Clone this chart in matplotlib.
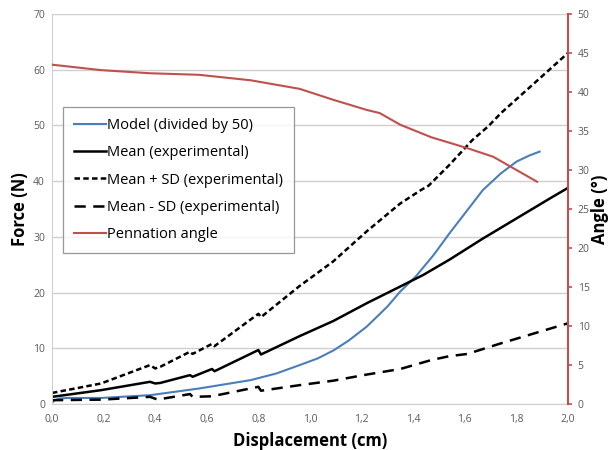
import matplotlib
matplotlib.use("Agg")
import matplotlib.pyplot as plt

# ---- data ----
model_x = [0.0, 0.01, 0.03, 0.06, 0.19, 0.38, 0.57, 0.77, 0.87, 0.96, 1.03, 1.09, 1.15, 1.22, 1.30, 1.35, 1.41, 1.48, 1.54, 1.61, 1.67, 1.74, 1.80, 1.85, 1.89]
model_y = [0.2, 0.7, 1.0, 1.1, 1.1, 1.6, 2.8, 4.3, 5.5, 7.0, 8.2, 9.6, 11.4, 13.9, 17.5, 20.2, 22.9, 26.8, 30.6, 34.8, 38.4, 41.4, 43.5, 44.6, 45.3]

mean_x = [0.0, 0.19, 0.38, 0.40, 0.42, 0.535, 0.545, 0.62, 0.63, 0.80, 0.81, 0.96, 1.09, 1.22, 1.35, 1.44, 1.54, 1.67, 1.80, 1.93, 2.0]
mean_y = [1.3, 2.5, 4.0, 3.7, 3.8, 5.2, 4.9, 6.3, 5.9, 9.7, 8.9, 12.2, 14.9, 18.1, 21.1, 23.2, 25.9, 29.7, 33.3, 36.9, 38.8]

plus_x = [0.0, 0.19, 0.38, 0.40, 0.42, 0.535, 0.545, 0.62, 0.63, 0.80, 0.81, 0.96, 1.09, 1.22, 1.35, 1.43, 1.46, 1.54, 1.63, 1.69, 1.74, 1.87, 2.0]
plus_y = [2.0, 3.7, 7.0, 6.4, 6.7, 9.4, 9.0, 10.8, 10.4, 16.2, 15.6, 21.2, 25.6, 31.0, 36.0, 38.4, 39.2, 42.9, 47.4, 49.8, 52.2, 57.6, 63.0]

minus_x = [0.0, 0.19, 0.38, 0.41, 0.42, 0.535, 0.545, 0.62, 0.80, 0.81, 0.96, 1.09, 1.22, 1.35, 1.47, 1.54, 1.61, 1.74, 1.87, 2.0]
minus_y = [0.7, 0.8, 1.3, 0.8, 0.9, 1.8, 1.3, 1.4, 3.1, 2.4, 3.4, 4.2, 5.3, 6.3, 7.9, 8.6, 9.0, 10.9, 12.7, 14.5]

angle_x = [0.0, 0.19, 0.38, 0.57, 0.77, 0.96, 1.09, 1.22, 1.27, 1.35, 1.47, 1.61, 1.71, 1.88]
angle_y = [43.5, 42.8, 42.4, 42.2, 41.5, 40.4, 39.0, 37.7, 37.3, 35.8, 34.2, 32.8, 31.7, 28.5]

x_ticks = [0.0, 0.2, 0.4, 0.6, 0.8, 1.0, 1.2, 1.4, 1.6, 1.8, 2.0]
x_ticklabels = ["0,0", "0,2", "0,4", "0,6", "0,8", "1,0", "1,2", "1,4", "1,6", "1,8", "2,0"]
force_ticks = [0, 10, 20, 30, 40, 50, 60, 70]
angle_ticks = [0, 5, 10, 15, 20, 25, 30, 35, 40, 45, 50]

labels = ["Model (divided by 50)", "Mean (experimental)", "Mean + SD (experimental)",
          "Mean - SD (experimental)", "Pennation angle"]

# ---- style ----
plt.rcParams['font.family'] = ['Open Sans', 'DejaVu Sans']
BLUE = "#4A7EBB"
RED = "#C0504D"
GRID = "#D0D0D0"
TICKC = "#595959"

fig = plt.figure(figsize=(6.08, 4.5), dpi=100)
ax = fig.add_axes([0.0855, 0.102, 0.8487, 0.867])
ax2 = ax.twinx()

l1, = ax.plot(model_x, model_y, color=BLUE, lw=1.5, label=labels[0])
l2, = ax.plot(mean_x, mean_y, color="black", lw=1.8, label=labels[1])
l3, = ax.plot(plus_x, plus_y, color="black", lw=1.8, dashes=(2.2, 1.3), label=labels[2])
l4, = ax.plot(minus_x, minus_y, color="black", lw=1.8, dashes=(4.5, 3.0), label=labels[3])
l5, = ax2.plot(angle_x, angle_y, color=RED, lw=1.5, label=labels[4])

ax.set_xlim(0, 2.0)
ax.set_ylim(0, 70)
ax2.set_ylim(0, 50)
ax.set_xticks(x_ticks)
ax.set_xticklabels(x_ticklabels)
ax.set_yticks(force_ticks)
ax2.set_yticks(angle_ticks)

ax.grid(axis='y', color=GRID, lw=1.0)
ax.set_axisbelow(True)
for s in ['top']:
    ax.spines[s].set_visible(False)
    ax2.spines[s].set_visible(False)
ax.spines['left'].set_color(GRID)
ax.spines['bottom'].set_color(GRID)
ax.spines['right'].set_visible(False)
ax2.spines['left'].set_visible(False)
ax2.spines['bottom'].set_visible(False)
ax2.spines['right'].set_color(RED)
ax2.spines['right'].set_linewidth(1.5)

ax.tick_params(axis='both', length=0, labelsize=7.5, labelcolor=TICKC, pad=5)
ax.tick_params(axis='x', pad=7)
ax2.tick_params(axis='y', length=3, width=1.2, color=RED, labelsize=7.5, labelcolor=TICKC, pad=4)

ax.set_xlabel("Displacement (cm)", fontsize=12, fontweight='bold', labelpad=5)
ax.set_ylabel("Force (N)", fontsize=12, fontweight='bold', labelpad=3)
ax2.set_ylabel("Angle (°)", fontsize=12, fontweight='bold', labelpad=1)

leg = ax.legend(handles=[l1, l2, l3, l4, l5], loc='upper left',
                bbox_to_anchor=(0.021, 0.762), borderaxespad=0, fontsize=10.5,
                frameon=True, fancybox=False, edgecolor="#7F7F7F",
                handlelength=2.2, handletextpad=0.1, labelspacing=0.85,
                borderpad=0.75)
leg.get_frame().set_linewidth(0.9)
leg.set_zorder(10)

fig.savefig("out.png", dpi=100)
